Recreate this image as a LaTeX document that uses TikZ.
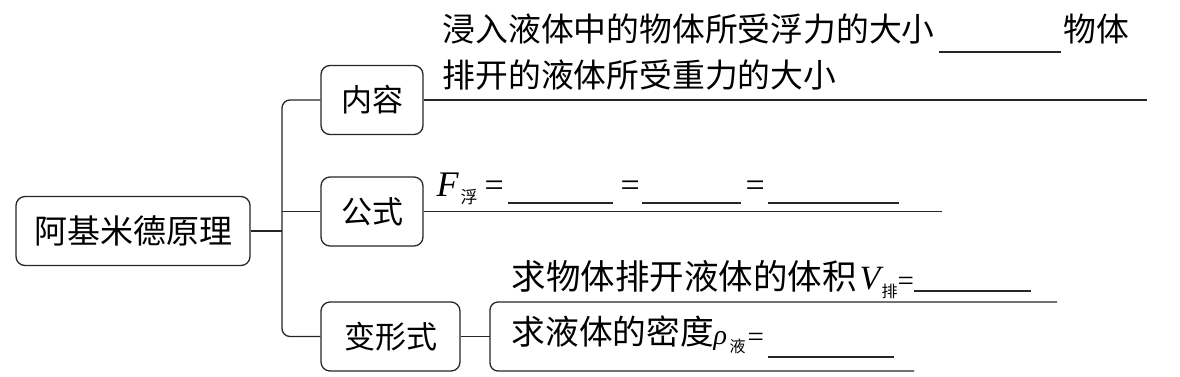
\documentclass[tikz,border=0pt]{standalone}
\usepackage{fontspec}
\newfontfamily\cjk{Noto Sans CJK SC}
\newfontfamily\tms{Liberation Serif}
\begin{document}
\begin{tikzpicture}[x=1pt,y=-1pt,line width=1.3pt,draw=black!85,
  box/.style={draw,rounded corners=9pt,minimum height=69pt,inner sep=0pt,font=\cjk\fontsize{31}{36}\selectfont},
  txt/.style={anchor=west,inner sep=0pt,font=\cjk\fontsize{32.8}{40}\selectfont},
  ltr/.style={anchor=base west,inner sep=0pt,font=\tms\itshape\fontsize{34}{40}\selectfont},
  sub/.style={anchor=base west,inner sep=0pt,font=\cjk\fontsize{17}{20}\selectfont},
  eq/.style={anchor=base west,inner sep=0pt,font=\tms\fontsize{34}{40}\selectfont},
  smalleq/.style={anchor=base west,inner sep=0pt,font=\tms\fontsize{29}{32}\selectfont},
  blank/.style={line width=1.2pt}]
\useasboundingbox (0,0) rectangle (1180,376);
% boxes
\node[box,minimum width=234pt,font=\cjk\fontsize{33}{40}\selectfont] (root) at (133,231) {阿基米德原理};
\node[box,minimum width=102pt] (nr) at (372,100) {内容};
\node[box,minimum width=102pt] (gs) at (372,211.5) {公式};
\node[box,minimum width=139pt] (bx) at (390.5,336.5) {变形式};
% connectors
\coordinate (j) at (282,231);
\draw (root.east) -- (j);
\draw[rounded corners=8pt] (nr.west) -| (j) |- (bx.west);
\draw (gs.west) -- (gs.west -| j);
\coordinate (e1) at (1147,100);
\draw (nr.east) -- (e1);
\coordinate (e2) at (942,211.5);
\draw (gs.east) -- (e2);
\coordinate (k) at (490,336.5);
\draw (bx.east) -- (k);
\coordinate (bt) at (1057,302);
\coordinate (bb) at (914,371);
\draw[rounded corners=8pt] (bt) -| (k) |- (bb);
% content text
\node[txt] (c1) at (442,29) {浸入液体中的物体所受浮力的大小};
\draw[blank] (939,52) -- (1061,52);
\node[txt] (c1b) at (1063,29) {物体};
\node[txt] (c2) at (442,75) {排开的液体所受重力的大小};
% formula
\node[ltr,font=\tms\itshape\fontsize{36}{40}\selectfont] (F) at (436,196) {F};
\node[sub] (Fs) at (460,203) {浮};
\node[eq] (q1) at (484,196) {=};
\draw[blank] (508,203) -- (613,203);
\node[eq] (q2) at (620,196) {=};
\draw[blank] (642,203) -- (741,203);
\node[eq] (q3) at (745,196) {=};
\draw[blank] (768,203) -- (899,203);
% variants
\node[txt,font=\cjk\fontsize{34.5}{40}\selectfont] (v1) at (511,276) {求物体排开液体的体积};
\node[ltr] (V) at (859,289) {V};
\node[sub,font=\cjk\fontsize{16}{20}\selectfont] (Vs) at (881,297) {排};
\node[smalleq] (q4) at (897,290) {=};
\draw[blank] (914,291) -- (1031,291);
\node[txt,font=\cjk\fontsize{33.7}{40}\selectfont] (v2) at (511,332) {求液体的密度};
\node[ltr,font=\tms\itshape\fontsize{28}{32}\selectfont] (rho) at (713,344) {ρ};
\node[sub,font=\cjk\fontsize{16}{20}\selectfont] (rs) at (729,352) {液};
\node[smalleq] (q5) at (747,346) {=};
\draw[blank] (768,357) -- (894,357);
\end{tikzpicture}
\end{document}
